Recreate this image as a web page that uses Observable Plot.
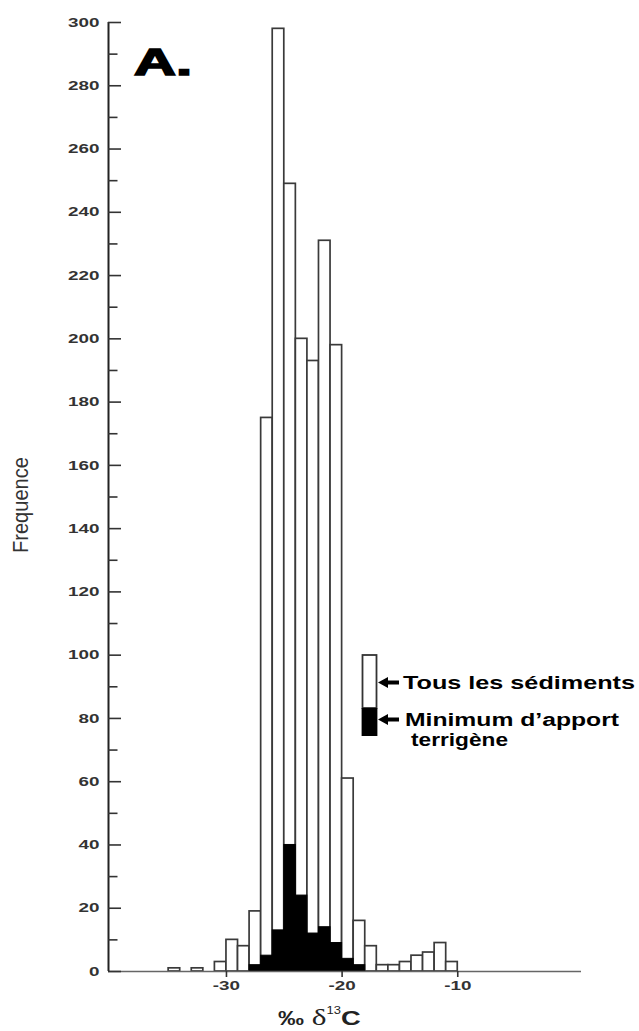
<!DOCTYPE html>
<html><head><meta charset="utf-8">
<script src="https://cdn.jsdelivr.net/npm/d3@7"></script>
<script src="https://cdn.jsdelivr.net/npm/@observablehq/plot@0.6"></script>
<style>
body{margin:0;background:#fff;}
#chart{position:relative;width:639px;height:1031px;overflow:hidden;}
#chart svg{position:absolute;left:0;top:0;}
</style></head><body><div id="chart"></div>
<script>
// ---- data ----
const binStart = [-35,-33,-31,-30,-29,-28,-27,-26,-25,-24,-23,-22,-21,-20,-19,-18,-17,-16,-15,-14,-13,-12,-11];
const allSediments = [1,1,3,10,8,19,175,298,249,200,193,231,198,61,16,8,2,2,3,5,6,9,3];
const minTerrigenous = [0,0,0,0,0,2,5,13,40,24,12,14,9,4,2,0,0,0,0,0,0,0,0];
const binWidth = 1;
const yMajorTicks = [0,20,40,60,80,100,120,140,160,180,200,220,240,260,280,300];
const yMinorTicks = [10,30,50,70,90,110,130,150,170,190,210,230,250,270,290];
const xTicks = [-30,-20,-10];
const xDomain = [-40.2, 0.7];
const yDomain = [0, 300];
const panelLabel = "A.";
const yLabel = "Frequence";
const legendLabels = ["Tous les sédiments", "Minimum d\u2019apport", "terrigène"];

const bins = binStart.map((x, i) => ({x1: x, x2: x + binWidth, total: allSediments[i], min: minTerrigenous[i]}));

const plot = Plot.plot({
  width: 639,
  height: 1031,
  marginLeft: 108,
  marginRight: 58,
  marginTop: 22,
  marginBottom: 60,
  x: {domain: xDomain},
  y: {domain: yDomain},
  style: {fontFamily: "'Liberation Sans', Arial, sans-serif", fontSize: "13px", fontWeight: "bold", color: "#333", background: "white", overflow: "visible"},
  marks: [
    Plot.rectY(bins, {x1: "x1", x2: "x2", y: "total", fill: "white", stroke: "#3a3a3a", strokeWidth: 1.7}),
    Plot.rectY(bins.filter(d => d.min > 0), {x1: "x1", x2: "x2", y: "min", fill: "black", stroke: "black", strokeWidth: 1}),
    Plot.ruleY([0], {stroke: "#666", strokeWidth: 1.6}),
    Plot.ruleX([xDomain[0]], {y1: yDomain[0], y2: yDomain[1], stroke: "#222", strokeWidth: 2}),
    Plot.axisY(yMajorTicks, {tickSize: 0, tickPadding: 9, label: null, fill: "#333", tickFormat: d => String(d)}),
    Plot.axisY(yMajorTicks, {tickSize: -13, tickFormat: () => "", label: null, stroke: "#333", strokeWidth: 1.6}),
    Plot.axisY(yMinorTicks, {tickSize: -9.5, tickFormat: () => "", label: null, stroke: "#333", strokeWidth: 1.6}),
    Plot.axisX(xTicks, {tickSize: 6, tickPadding: 3, label: null, stroke: "#333", strokeWidth: 1.6, fill: "#333", tickFormat: d => String(d)})
  ]
});
document.getElementById("chart").appendChild(plot);

// horizontal stretch of the text as in the scanned figure
d3.select(plot).selectAll("g[aria-label$='axis tick label'] text").each(function() {
  const t = this.getAttribute("transform");
  if (t) this.setAttribute("transform", t + " scale(1.45,1)");
  else {
    const x = +this.getAttribute("x") || 0, y = +this.getAttribute("y") || 0;
    this.removeAttribute("x"); this.removeAttribute("y");
    this.setAttribute("transform", `translate(${x},${y}) scale(1.45,1)`);
  }
});

// overlay: panel label, axis titles, legend
const ov = d3.select("#chart").append("svg")
  .attr("width", 639).attr("height", 1031)
  .style("font-family", "'Liberation Sans', Arial, sans-serif");

ov.append("text").text(panelLabel)
  .attr("x", 134).attr("y", 75)
  .attr("font-size", 37).attr("font-weight", "bold")
  .attr("fill", "black").attr("stroke", "black").attr("stroke-width", 1.6)
  .attr("textLength", 58).attr("lengthAdjust", "spacingAndGlyphs");

ov.append("text").text(yLabel)
  .attr("transform", "translate(28,505) scale(1.45,1) rotate(-90)")
  .attr("text-anchor", "middle")
  .attr("font-size", 15).attr("fill", "#333")
  .attr("textLength", 96).attr("lengthAdjust", "spacingAndGlyphs");

// legend swatch
ov.append("rect").attr("x", 362.5).attr("y", 655).attr("width", 14).attr("height", 53)
  .attr("fill", "white").attr("stroke", "#333").attr("stroke-width", 1.8);
ov.append("rect").attr("x", 361.6).attr("y", 708).attr("width", 15.8).attr("height", 28)
  .attr("fill", "black");
// arrows
function arrow(y) {
  ov.append("path")
    .attr("d", `M378,${y} L388,${y-5.5} L388,${y-2} L399,${y-2} L399,${y+2} L388,${y+2} L388,${y+5.5} Z`)
    .attr("fill", "black");
}
arrow(682.5);
arrow(719.5);

ov.append("text").text(legendLabels[0])
  .attr("x", 403).attr("y", 689).attr("font-size", 18).attr("font-weight", "bold").attr("fill", "black")
  .attr("textLength", 232).attr("lengthAdjust", "spacingAndGlyphs");
ov.append("text").text(legendLabels[1])
  .attr("x", 405).attr("y", 726).attr("font-size", 18).attr("font-weight", "bold").attr("fill", "black")
  .attr("textLength", 214).attr("lengthAdjust", "spacingAndGlyphs");
ov.append("text").text(legendLabels[2])
  .attr("x", 411).attr("y", 746).attr("font-size", 18).attr("font-weight", "bold").attr("fill", "black")
  .attr("textLength", 97).attr("lengthAdjust", "spacingAndGlyphs");

// x-axis title: ‰ δ13C
const xl = ov.append("text").attr("transform", "translate(278,1025) scale(1.3,1)").attr("fill", "#222");
xl.append("tspan").text("\u2030").attr("font-size", 20).attr("font-weight", "bold");
xl.append("tspan").text(" \u03b4").attr("font-size", 24).attr("font-family", "'Liberation Serif', serif").attr("font-weight", "normal");
xl.append("tspan").text("13").attr("font-size", 10).attr("dy", -11).attr("font-weight", "normal");
xl.append("tspan").text("C").attr("font-size", 21).attr("dy", 11).attr("font-weight", "bold");
</script>
</body></html>
